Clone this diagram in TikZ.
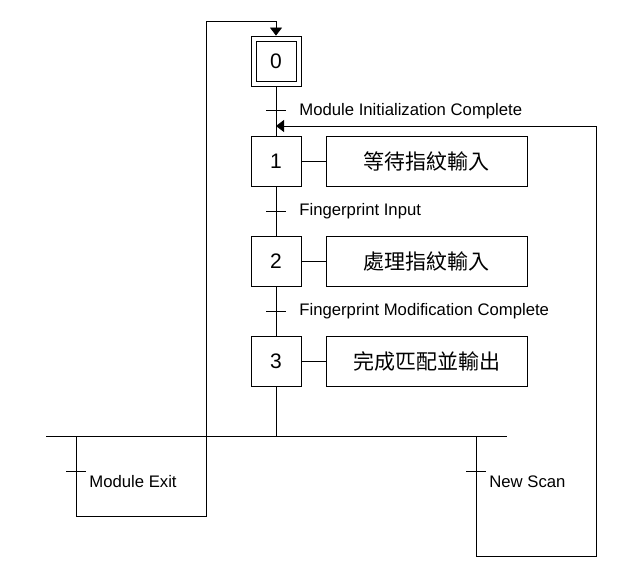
\documentclass[tikz,border=0pt]{standalone}
\usepackage{fontspec}
\setmainfont{Liberation Sans}
\newfontfamily\cjk{Noto Sans CJK TC}
\usetikzlibrary{arrows.meta}

\tikzset{
  stepbox/.style={draw,minimum size=50pt,inner sep=0pt,font=\fontsize{21}{25}\selectfont},
  actbox/.style={draw,minimum width=201pt,minimum height=50pt,inner sep=0pt,font=\cjk\fontsize{21}{25}\selectfont},
  cond/.style={anchor=west,inner sep=0pt,font=\fontsize{16.7}{19}\selectfont},
  flow/.style={-{Triangle[length=8pt,width=12pt]}},
}

\begin{document}
\begin{tikzpicture}[x=1pt,y=-1pt,line width=.8pt]
\path[use as bounding box] (0,0) rectangle (640,575);
% steps
\node[stepbox] (s0) at (276,61) {};
\node[stepbox,minimum size=40pt] (s0in) at (276,61) {0};
\node[stepbox] (s1) at (276,161) {1};
\node[stepbox] (s2) at (276,261) {2};
\node[stepbox] (s3) at (276,361) {3};
% actions
\node[actbox] (a1) at (426.5,161) {等待指紋輸入};
\node[actbox] (a2) at (426.5,261) {處理指紋輸入};
\node[actbox] (a3) at (426.5,361) {完成匹配並輸出};
\draw (s1) -- (a1);
\draw (s2) -- (a2);
\draw (s3) -- (a3);
% main line
\coordinate (j) at (276,436);
\draw (s0) -- (s1) -- (s2) -- (s3) -- (j);
% transitions
\coordinate (t01) at (276,110);
\coordinate (t12) at (276,211);
\coordinate (t23) at (276,311);
\draw ([xshift=-10pt]t01) -- ([xshift=10pt]t01);
\draw ([xshift=-10pt]t12) -- ([xshift=10pt]t12);
\draw ([xshift=-10pt]t23) -- ([xshift=10pt]t23);
\node[cond] (c01) at (299,111) {Module Initialization Complete};
\node[cond] (c12) at (299,211) {Fingerprint Input};
\node[cond] (c23) at (299,311) {Fingerprint Modification Complete};
% divergence bar
\coordinate (barL) at (46,436);
\coordinate (barR) at (507,436);
\draw (barL) -- (barR);
% exit branch
\coordinate (exTop) at (76,436);
\coordinate (exBot) at (76,516);
\coordinate (exCor) at (206,516);
\coordinate (exUp) at (206,21);
\coordinate (exIn) at (276,21);
\coordinate (tex) at (76,471);
\draw[flow] (exTop) -- (exBot) -- (exCor) -- (exUp) -- (exIn) -- (s0.north);
\draw ([xshift=-10pt]tex) -- ([xshift=10pt]tex);
\node[cond] (cex) at (89,482) {Module Exit};
% new scan branch
\coordinate (nsTop) at (476,436);
\coordinate (nsBot) at (476,556);
\coordinate (nsCor) at (596,556);
\coordinate (nsUp) at (596,126);
\coordinate (nsIn) at (276,126);
\coordinate (tns) at (476,471);
\draw[flow] (nsTop) -- (nsBot) -- (nsCor) -- (nsUp) -- (nsIn);
\draw ([xshift=-10pt]tns) -- ([xshift=10pt]tns);
\node[cond] (cns) at (489,482) {New Scan};
\end{tikzpicture}
\end{document}
